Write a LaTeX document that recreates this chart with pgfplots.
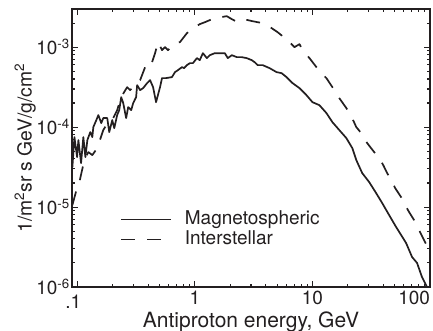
\documentclass[border=0pt]{standalone}
\usepackage{pgfplots}
\pgfplotsset{compat=1.18}
\usepackage{fontspec}
\setmainfont{TeX Gyre Heros}
\definecolor{ink}{RGB}{35,31,32}
\newcommand{\tfont}{\fontsize{19}{21}\selectfont}
\newcommand{\ex}[1]{10\textsuperscript{-#1}}
\begin{document}
\begin{tikzpicture}
\begin{loglogaxis}[
  scale only axis, width=358pt, height=278pt,
  xmin=0.09, xmax=100, ymin=1e-6, ymax=3e-3,
  axis line style={line width=1.6pt, ink},
  every tick/.style={line width=1.1pt, ink},
  major tick length=6pt, minor tick length=3.5pt,
  tick align=inside, xtick pos=both, ytick pos=both,
  xtick={0.1,1,10,100},
  xticklabels={\makebox[0pt][l]{\hspace*{-12pt}\raisebox{-4pt}[\height]{.1}},1,10,\makebox[0pt][r]{100}},
  minor xtick={0.2,0.3,0.4,0.5,0.6,0.7,0.8,0.9,2,3,4,5,6,7,8,9,20,30,40,50,60,70,80,90},
  ytick={1e-6,1e-5,1e-4,1e-3},
  yticklabels={\ex{6},\ex{5},\ex{4},\ex{3}},
  minor ytick={2e-6,3e-6,4e-6,5e-6,6e-6,7e-6,8e-6,9e-6,2e-5,3e-5,4e-5,5e-5,6e-5,7e-5,8e-5,9e-5,2e-4,3e-4,4e-4,5e-4,6e-4,7e-4,8e-4,9e-4,2e-3},
  xticklabel style={font=\tfont, inner sep=0pt, anchor=north, yshift=-4pt, text=ink},
  yticklabel style={font=\tfont, inner sep=0pt, anchor=east, xshift=-2pt, text=ink},
  xlabel={Antiproton energy, GeV},
  ylabel={1/m\textsuperscript{2}sr s GeV/g/cm\textsuperscript{2}},
  xlabel style={at={(axis description cs:0.5,-0.144)}, anchor=base, font=\fontsize{21}{23}\selectfont, text=ink},
  ylabel style={at={(axis description cs:-0.131,0.5)}, anchor=center, rotate=0, font=\fontsize{19.3}{21}\selectfont, text=ink},
  legend cell align=left,
  legend image code/.code={\draw[#1] (0pt,0pt) -- (50pt,0pt);},
  legend style={draw=none, fill=none, at={(axis description cs:0.134,0.28)}, anchor=north west,
    inner sep=0pt, row sep=0pt, text=ink,
    nodes={inner sep=0pt, text height=15pt, text depth=5pt, font=\fontsize{19}{21}\selectfont},
    /tikz/every odd column/.append style={column sep=13pt}},
]
\addplot[ink, line width=1.7pt, line join=round] coordinates {
(0.0907,3.16e-5)(0.0944,7.5e-5)(0.0994,4.22e-5)(0.102,6.88e-5)(0.1075,3.55e-5)(0.1124,7.5e-5)(0.117,4.22e-5)(0.1216,6.88e-5)(0.1288,8.66e-5)(0.134,7.5e-5)(0.1367,1.0e-4)(0.145,1.224e-4)(0.1508,1.413e-4)(0.1597,1.122e-4)(0.166,1.296e-4)(0.1795,1.296e-4)(0.1867,8.66e-5)(0.198,1.224e-4)(0.206,9.7e-5)(0.218,1.413e-4)(0.227,1.63e-4)(0.236,2.37e-4)(0.2455,2.0e-4)(0.260,1.296e-4)(0.2705,1.778e-4)(0.287,1.63e-4)(0.2985,2.0e-4)(0.316,2.37e-4)(0.3225,3.35e-4)(0.342,2.9e-4)(0.3625,3.07e-4)(0.392,3.55e-4)(0.4155,3.87e-4)(0.4406,3.16e-4)(0.467,2.05e-4)(0.505,3.16e-4)(0.525,4.1e-4)(0.568,4.1e-4)(0.638,4.22e-4)(0.677,4.87e-4)(0.718,5.16e-4)(0.776,5.62e-4)(0.807,5.46e-4)(0.855,5.96e-4)(0.907,6.31e-4)(0.962,6.31e-4)(1.04,7.29e-4)(1.10,6.88e-4)(1.169,8.41e-4)(1.264,7.29e-4)(1.34,7.94e-4)(1.477,8.41e-4)(1.629,8.41e-4)(1.796,8.41e-4)(1.905,7.29e-4)(2.06,7.94e-4)(2.27,7.5e-4)(2.50,7.5e-4)(2.76,7.29e-4)(3.04,6.88e-4)(3.22,6.49e-4)(3.42,5.96e-4)(3.77,5.96e-4)(4.32,5.46e-4)(4.95,4.87e-4)(5.46,4.73e-4)(6.02,4.22e-4)(6.77,3.55e-4)(7.76,3.07e-4)(8.89,2.51e-4)(10.0,2.05e-4)(11.46,1.88e-4)(13.14,1.5e-4)(14.77,1.155e-4)(16.93,9.17e-5)(19.42,7.29e-5)(21.83,5.46e-5)(23.6,3.87e-5)(26.5,2.66e-5)(30.4,2.05e-5)(34.8,1.496e-5)(39.2,1.122e-5)(44.9,7.94e-6)(51.5,5.62e-6)(56.8,4.47e-6)(62.6,3.55e-6)(70.4,2.37e-6)(77.6,2.0e-6)(85.5,1.33e-6)(94.3,1.0e-6)
};
\addlegendentry{Magnetospheric}
\addplot[ink, line width=1.7pt, line join=round, dash pattern=on 14pt off 12pt] coordinates {
(0.0907,1.06e-5)(0.0982,1.63e-5)(0.104,2.05e-5)(0.1146,3.87e-5)(0.1239,4.87e-5)(0.134,4.47e-5)(0.1477,5.46e-5)(0.166,9.17e-5)(0.183,1.155e-4)(0.2018,1.296e-4)(0.218,1.63e-4)(0.236,2.37e-4)(0.250,2.74e-4)(0.2653,3.16e-4)(0.281,2.9e-4)(0.310,3.35e-4)(0.342,3.87e-4)(0.377,5.62e-4)(0.4075,6.88e-4)(0.432,6.49e-4)(0.458,8.41e-4)(0.486,1.155e-3)(0.525,9.17e-4)(0.557,1.0e-3)(0.590,9.17e-4)(0.677,1.122e-3)(0.746,1.155e-3)(0.855,1.496e-3)(1.0,1.778e-3)(1.10,1.94e-3)(1.215,2.05e-3)(1.34,2.18e-3)(1.477,2.30e-3)(1.66,2.37e-3)(1.867,2.44e-3)(2.06,2.24e-3)(2.31,2.05e-3)(2.55,2.18e-3)(2.81,2.18e-3)(3.10,2.11e-3)(3.42,2.05e-3)(3.77,2.0e-3)(4.07,1.88e-3)(4.49,1.73e-3)(5.05,1.54e-3)(5.57,1.37e-3)(6.02,1.296e-3)(6.51,1.122e-3)(7.03,1.0e-3)(7.76,1.09e-3)(8.23,9.17e-4)(9.43,7.29e-4)(10.81,5.62e-4)(11.92,4.73e-4)(13.14,4.1e-4)(14.77,3.16e-4)(15.97,2.66e-4)(16.93,2.30e-4)(19.42,1.73e-4)(21.4,1.37e-4)(23.6,1.0e-4)(26.0,8.41e-5)(29.2,6.31e-5)(33.5,4.87e-5)(37.0,4.1e-5)(40.0,3.35e-5)(43.2,2.66e-5)(46.7,2.18e-5)(50.5,1.73e-5)(56.8,1.33e-5)(61.4,1.06e-5)(66.4,8.66e-6)(73.2,6.88e-6)(79.1,5.46e-6)(85.5,4.34e-6)(92.5,3.45e-6)(97.8,2.9e-6)
};
\addlegendentry{Interstellar}
\end{loglogaxis}
\pgfresetboundingbox
\path[use as bounding box] (-72pt,-44pt) rectangle (361pt,287pt);
\end{tikzpicture}
\end{document}
